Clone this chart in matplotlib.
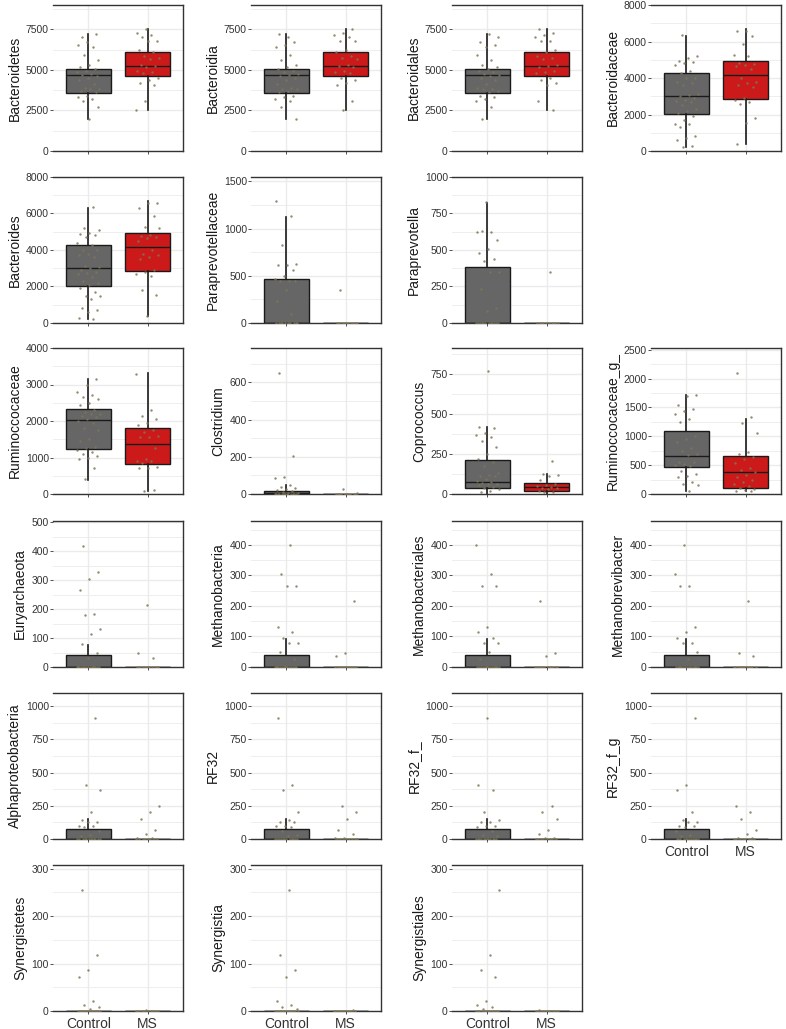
import matplotlib.pyplot as plt
import numpy as np

plt.rcParams['font.family'] = ['Liberation Sans', 'DejaVu Sans']

groups = ["Control", "MS"]
box_colors = ["#666666", "#CC1A1A"]

# box stats: (whisker low, q1, median, q3, whisker high)
bacteroidetes_box = [(2000, 3570, 4660, 5030, 7190), (2550, 4600, 5220, 6080, 7500)]
bacteroidetes_ctrl = [7050, 7200, 6700, 6550, 6400, 5900, 5600, 5300, 5200, 5050, 4950, 4850,
                      4750, 4700, 4600, 4500, 4400, 4100, 3900, 3850, 3800, 3700, 3650, 3400,
                      3300, 3200, 3100, 2700, 2000]
bacteroidetes_ms = [7550, 7300, 7150, 7050, 6800, 6800, 6250, 6100, 5850, 5750, 5700, 5300,
                    5250, 5200, 4950, 4850, 4800, 4500, 4350, 4200, 4050, 3100, 2500]

bacteroidaceae_box = [(220, 2030, 3020, 4290, 6300), (370, 2860, 4160, 4910, 6670)]
bacteroidaceae_ctrl = [6350, 5200, 5100, 4950, 4850, 4800, 4700, 4400, 4300, 4000, 4000, 3800,
                       3700, 3600, 3100, 3050, 3000, 2900, 2800, 2750, 2700, 2500, 2300, 2200,
                       2100, 1900, 1700, 1500, 1500, 1300, 800, 700, 600, 300, 200]
bacteroidaceae_ms = [6600, 6550, 6300, 5850, 5250, 5200, 4800, 4750, 4700, 4650, 4500, 4000,
                     3800, 3700, 3600, 3500, 2900, 2800, 2700, 2550, 1800, 1550, 400]

paraprevotellaceae_box = [(0, 0, 0, 467, 1124), (0, 0, 0, 0, 0)]
paraprevotellaceae_ctrl = [1290, 1130, 830, 620, 615, 610, 560, 500, 470, 440, 440, 440, 350,
                           230, 90] + [0] * 10
paraprevotellaceae_ms = [350] + [0] * 10

paraprevotella_box = [(0, 0, 0, 382, 819), (0, 0, 0, 0, 0)]
paraprevotella_ctrl = [830, 620, 625, 630, 570, 505, 480, 435, 425, 350, 350, 235, 100, 85] + [0] * 12
paraprevotella_ms = [350] + [0] * 10

ruminococcaceae_box = [(374, 1242, 2027, 2338, 3151), (73, 831, 1370, 1817, 3315)]
ruminococcaceae_ctrl = [3150, 3000, 2800, 2700, 2650, 2600, 2500, 2450, 2300, 2250, 2200, 2200,
                        2150, 2100, 2050, 2000, 1950, 1800, 1750, 1500, 1450, 1300, 1250, 1200,
                        1150, 1100, 1050, 1000, 950, 700, 400]
ruminococcaceae_ms = [3300, 2300, 2150, 2050, 1950, 1900, 1750, 1700, 1600, 1550, 1550, 1250,
                      950, 900, 900, 850, 750, 700, 700, 120, 80]

clostridium_box = [(0, 0, 5, 18, 47), (0, 0, 0, 0, 0)]
clostridium_ctrl = [650, 205, 90, 85, 50, 40, 30, 25, 20, 15, 10, 5, 5] + [0] * 12
clostridium_ms = [25, 5] + [0] * 10

coprococcus_box = [(0, 38, 73, 212, 415), (0, 17, 46, 69, 122)]
coprococcus_ctrl = [765, 420, 410, 380, 365, 355, 330, 290, 250, 220, 200, 175, 130, 120, 115,
                    110, 95, 80, 75, 70, 65, 60, 55, 45, 40, 30, 20, 10]
coprococcus_ms = [205, 125, 120, 115, 85, 60, 55, 50, 45, 40, 35, 30, 20, 15, 10]

rumino_g_box = [(58, 465, 663, 1099, 1715), (47, 110, 384, 657, 1308)]
rumino_g_ctrl = [1720, 1700, 1550, 1480, 1430, 1380, 1300, 1250, 1000, 950, 900, 800, 750, 700,
                 680, 560, 550, 520, 500, 480, 400, 350, 310, 300, 210, 180, 150, 60]
rumino_g_ms = [2100, 1330, 1230, 1060, 720, 700, 640, 600, 530, 450, 420, 380, 330, 300, 250,
               200, 170, 130, 110, 80, 70, 60, 50]

euryarchaeota_box = [(0, 0, 0, 40, 76), (0, 0, 0, 0, 0)]
euryarchaeota_ctrl = [420, 330, 305, 265, 185, 180, 130, 115, 80, 50, 30] + [0] * 15
euryarchaeota_ms = [215, 50, 30] + [0] * 12

methano_box = [(0, 0, 0, 40, 93), (0, 0, 0, 0, 0)]
methano_ctrl = [400, 305, 265, 265, 130, 115, 95, 80, 80, 50, 25] + [0] * 15
methano_ms = [215, 45, 35] + [0] * 12

rf32_box = [(0, 0, 0, 75, 150), (0, 0, 0, 0, 0)]
rf32_ctrl = [910, 410, 370, 205, 140, 130, 125, 100, 100, 90, 60, 30, 20] + [0] * 12
rf32_ms = [250, 200, 150, 70, 40, 10, 10] + [0] * 8

synerg_box = [(0, 0, 0, 0, 0), (0, 0, 0, 0, 0)]
synerg_ctrl = [255, 118, 87, 72, 22, 12, 8, 5] + [0] * 15
synerg_ms = [3] + [0] * 12

ticks_bacteroidetes = [0, 2500, 5000, 7500]
ticks_8000 = [0, 2000, 4000, 6000, 8000]
ticks_1500 = [0, 500, 1000, 1500]
ticks_1000 = [0, 250, 500, 750, 1000]
ticks_4000 = [0, 1000, 2000, 3000, 4000]
ticks_600 = [0, 200, 400, 600]
ticks_750 = [0, 250, 500, 750]
ticks_2500 = [0, 500, 1000, 1500, 2000, 2500]
ticks_500 = [0, 100, 200, 300, 400, 500]
ticks_400 = [0, 100, 200, 300, 400]
ticks_300 = [0, 100, 200, 300]

# (row, col, label, box, control points, MS points, ticks, y top)
panels = [
    (0, 0, "Bacteroidetes", bacteroidetes_box, bacteroidetes_ctrl, bacteroidetes_ms, ticks_bacteroidetes, 9000),
    (0, 1, "Bacteroidia", bacteroidetes_box, bacteroidetes_ctrl, bacteroidetes_ms, ticks_bacteroidetes, 9000),
    (0, 2, "Bacteroidales", bacteroidetes_box, bacteroidetes_ctrl, bacteroidetes_ms, ticks_bacteroidetes, 9000),
    (0, 3, "Bacteroidaceae", bacteroidaceae_box, bacteroidaceae_ctrl, bacteroidaceae_ms, ticks_8000, 8000),
    (1, 0, "Bacteroides", bacteroidaceae_box, bacteroidaceae_ctrl, bacteroidaceae_ms, ticks_8000, 8000),
    (1, 1, "Paraprevotellaceae", paraprevotellaceae_box, paraprevotellaceae_ctrl, paraprevotellaceae_ms, ticks_1500, 1545),
    (1, 2, "Paraprevotella", paraprevotella_box, paraprevotella_ctrl, paraprevotella_ms, ticks_1000, 1000),
    (2, 0, "Ruminoccocaceae", ruminococcaceae_box, ruminococcaceae_ctrl, ruminococcaceae_ms, ticks_4000, 4000),
    (2, 1, "Clostridium", clostridium_box, clostridium_ctrl, clostridium_ms, ticks_600, 785),
    (2, 2, "Coprococcus", coprococcus_box, coprococcus_ctrl, coprococcus_ms, ticks_750, 910),
    (2, 3, "Ruminoccocaceae_g_", rumino_g_box, rumino_g_ctrl, rumino_g_ms, ticks_2500, 2530),
    (3, 0, "Euryarchaeota", euryarchaeota_box, euryarchaeota_ctrl, euryarchaeota_ms, ticks_500, 505),
    (3, 1, "Methanobacteria", methano_box, methano_ctrl, methano_ms, ticks_400, 478),
    (3, 2, "Methanobacteriales", methano_box, methano_ctrl, methano_ms, ticks_400, 478),
    (3, 3, "Methanobrevibacter", methano_box, methano_ctrl, methano_ms, ticks_400, 478),
    (4, 0, "Alphaproteobacteria", rf32_box, rf32_ctrl, rf32_ms, ticks_1000, 1100),
    (4, 1, "RF32", rf32_box, rf32_ctrl, rf32_ms, ticks_1000, 1100),
    (4, 2, "RF32_f_", rf32_box, rf32_ctrl, rf32_ms, ticks_1000, 1100),
    (4, 3, "RF32_f_g", rf32_box, rf32_ctrl, rf32_ms, ticks_1000, 1100),
    (5, 0, "Synergistetes", synerg_box, synerg_ctrl, synerg_ms, ticks_300, 308),
    (5, 1, "Synergistia", synerg_box, synerg_ctrl, synerg_ms, ticks_300, 308),
    (5, 2, "Synergistiales", synerg_box, synerg_ctrl, synerg_ms, ticks_300, 308),
]
bottom_panels = {(4, 3), (5, 0), (5, 1), (5, 2)}

W, H = 786, 1029
col_left = [53, 251, 452, 651]
row_top = [5, 177, 348, 521, 693, 865]
pw, ph = 130, 146

fig = plt.figure(figsize=(W / 100, H / 100), dpi=100)

for k, (r, c, label, box, ctrl, ms, ticks, top) in enumerate(panels):
    ax = fig.add_axes([col_left[c] / W, 1 - (row_top[r] + ph) / H, pw / W, ph / H])
    ax.set_xlim(0.4, 2.6)
    ax.set_ylim(0, top)

    # grid: majors + minors at midpoints
    step = ticks[1] - ticks[0]
    for t in np.arange(0, top + step, step / 2):
        if t <= top:
            ax.axhline(t, color="#EBEBEB", lw=1.0 if t in ticks else 0.6, zorder=0)
    for xg in (1, 2):
        ax.axvline(xg, color="#EBEBEB", lw=1.0, zorder=0)

    stats = []
    for (lo, q1, med, q3, hi) in box:
        stats.append(dict(whislo=lo, q1=q1, med=med, q3=q3, whishi=hi, fliers=[]))
    bp = ax.bxp(stats, positions=[1, 2], widths=0.76, patch_artist=True, showcaps=False,
                boxprops=dict(edgecolor="#1a1a1a", linewidth=1.0),
                medianprops=dict(color="#1a1a1a", linewidth=1.0),
                whiskerprops=dict(color="#1a1a1a", linewidth=1.2))
    for patch, col in zip(bp["boxes"], box_colors):
        patch.set_facecolor(col)
        patch.set_zorder(2)

    # jittered points (deterministic spread)
    for pos, vals in ((1, ctrl), (2, ms)):
        n = len(vals)
        offs = ((np.arange(n) * 0.6180339887 + k * 0.37 + pos * 0.21) % 1 - 0.5) * 0.4
        ax.scatter(pos + offs, vals, s=3, color="#7f7556", alpha=0.85, lw=0, zorder=3)

    ax.set_yticks(ticks)
    ax.set_yticklabels([str(t) for t in ticks])
    ax.set_xticks([1, 2])
    if (r, c) in bottom_panels:
        ax.set_xticklabels(groups, fontsize=10, color="#1a1a1a")
    else:
        ax.set_xticklabels([])
    ax.tick_params(axis="y", labelsize=7.5, colors="#333333", length=2, width=0.6, pad=1)
    ax.tick_params(axis="x", length=2, width=0.6, colors="#333333", pad=2)
    ax.set_ylabel(label, fontsize=10, color="#1a1a1a", labelpad=3)

    ax.spines["left"].set_visible(False)
    for s in ("top", "right", "bottom"):
        ax.spines[s].set_color("#333333")
        ax.spines[s].set_linewidth(1.0)

fig.savefig("out.png", dpi=100, facecolor="white")
